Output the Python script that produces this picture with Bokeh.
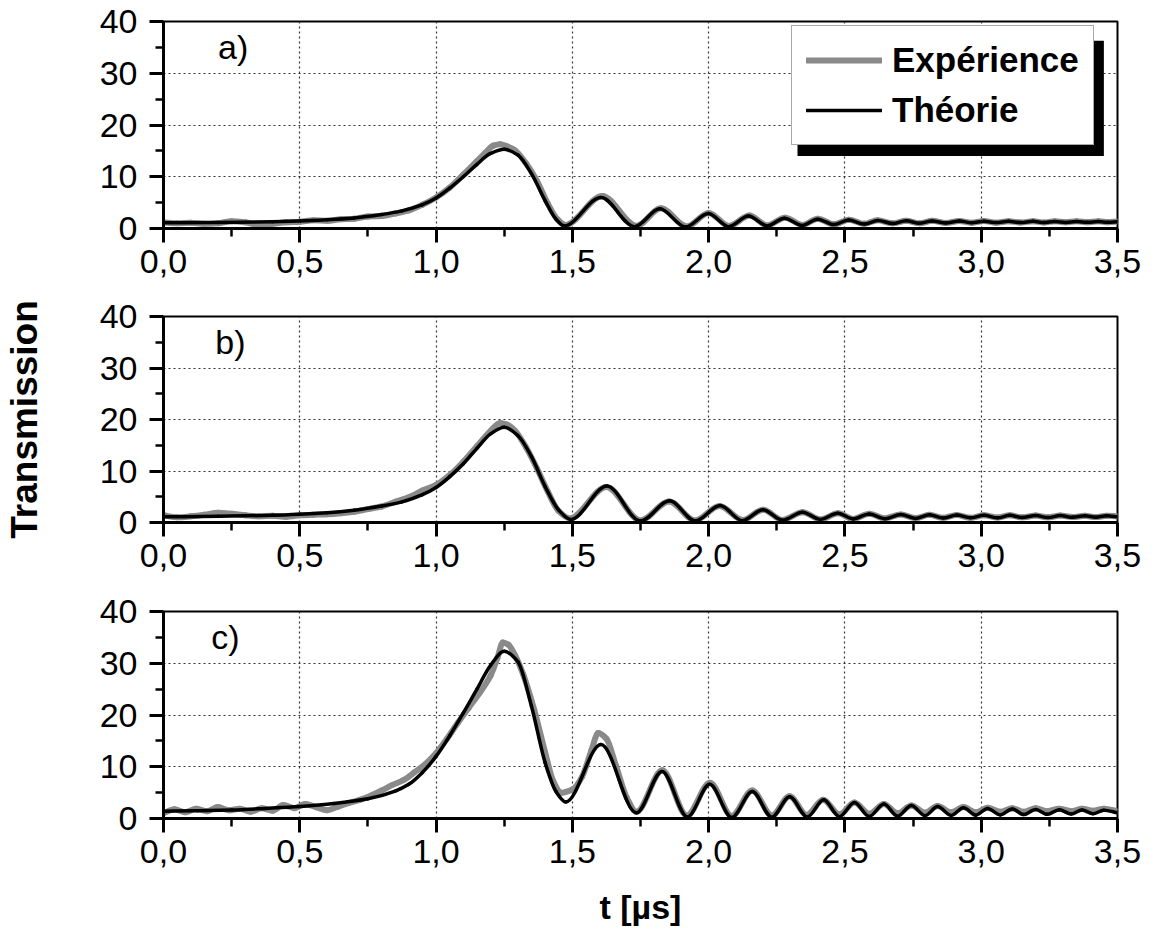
from bokeh.plotting import figure
from bokeh.models import (Range1d, FixedTicker, Legend, LegendItem, BoxAnnotation, Label,
                          ColumnDataSource)
from bokeh.layouts import column
from bokeh.embed import file_html
from bokeh.resources import INLINE

# ---------------- data ----------------
x_ticks = [0.0, 0.5, 1.0, 1.5, 2.0, 2.5, 3.0, 3.5]
x_tick_labels = ["0,0", "0,5", "1,0", "1,5", "2,0", "2,5", "3,0", "3,5"]
x_minor = [0.25, 0.75, 1.25, 1.75, 2.25, 2.75, 3.25]
y_ticks = [0, 10, 20, 30, 40]
y_tick_labels = ["0", "10", "20", "30", "40"]
y_minor = [5, 15, 25, 35]
legend_labels = ["Expérience", "Théorie"]
panel_tags = ["a)", "b)", "c)"]
x_label = "t [µs]"
y_label = "Transmission"

# panel a
a_th_t = [0.00, 0.20, 0.40, 0.50, 0.60, 0.70, 0.80, 0.875, 0.95, 1.00, 1.05, 1.10, 1.15, 1.20, 1.25,
          1.30, 1.35, 1.40, 1.44, 1.47, 1.605, 1.728, 1.821, 1.915, 1.999, 2.073, 2.146, 2.215,
          2.278, 2.343, 2.40, 2.46, 2.514, 2.571, 2.621, 2.676, 2.725, 2.772, 2.82, 2.87, 2.92,
          2.965, 3.01, 3.055, 3.10, 3.145, 3.19, 3.23, 3.27, 3.31, 3.35, 3.39, 3.43, 3.465, 3.50]
a_th_y = [1.1, 1.15, 1.3, 1.45, 1.7, 2.05, 2.7, 3.4, 4.6, 5.9, 7.8, 10.0, 12.4, 14.5, 15.3,
          14.2, 10.6, 5.4, 1.8, 0.5, 6.0, 0.35, 3.8, 0.3, 2.9, 0.35, 2.4, 0.5,
          2.0, 0.6, 1.8, 0.75, 1.65, 0.85, 1.55, 0.95, 1.5, 1.0, 1.45, 1.05, 1.45,
          1.1, 1.4, 1.15, 1.4, 1.15, 1.38, 1.17, 1.36, 1.18, 1.35, 1.2, 1.34, 1.2, 1.3]
a_ex_t = [0.00, 0.05, 0.10, 0.15, 0.20, 0.25, 0.30, 0.35, 0.40, 0.45, 0.50, 0.55, 0.60, 0.65,
          0.70, 0.75, 0.80, 0.85, 0.90, 0.95, 1.00, 1.05, 1.10, 1.15, 1.18, 1.21, 1.235, 1.26,
          1.29, 1.33, 1.37, 1.41, 1.445, 1.475, 1.61, 1.735, 1.825, 1.92, 2.00, 2.075, 2.15,
          2.215, 2.28, 2.345, 2.40, 2.46, 2.515, 2.57, 2.62, 2.675, 2.725, 2.775, 2.82, 2.87,
          2.92, 2.965, 3.01, 3.055, 3.10, 3.145, 3.19, 3.23, 3.27, 3.31, 3.35, 3.39, 3.43,
          3.465, 3.50]
a_ex_y = [1.2, 1.0, 1.1, 0.9, 1.0, 1.4, 1.2, 0.7, 0.9, 1.2, 1.3, 1.6, 1.5, 1.8,
          1.9, 2.3, 2.4, 2.9, 3.5, 4.6, 6.0, 7.9, 10.4, 13.0, 14.6, 16.0, 16.3, 15.9,
          15.1, 12.6, 9.2, 4.8, 1.8, 0.7, 6.3, 0.5, 3.9, 0.4, 3.0, 0.5, 2.5,
          0.6, 2.1, 0.7, 1.9, 0.8, 1.7, 0.9, 1.6, 1.0, 1.5, 1.0, 1.5, 1.05,
          1.45, 1.1, 1.45, 1.1, 1.4, 1.15, 1.4, 1.15, 1.4, 1.2, 1.4, 1.2, 1.4,
          1.2, 1.35]

# panel b
b_th_t = [0.00, 0.20, 0.40, 0.50, 0.60, 0.70, 0.80, 0.875, 0.95, 1.00, 1.05, 1.10, 1.15, 1.20,
          1.25, 1.30, 1.35, 1.40, 1.45, 1.494, 1.627, 1.749, 1.857, 1.951, 2.042, 2.124, 2.199,
          2.271, 2.344, 2.41, 2.474, 2.53, 2.589, 2.647, 2.705, 2.758, 2.81, 2.86, 2.91, 2.96,
          3.01, 3.06, 3.105, 3.15, 3.20, 3.245, 3.29, 3.335, 3.38, 3.42, 3.46, 3.50]
b_th_y = [1.1, 1.2, 1.4, 1.6, 1.9, 2.4, 3.2, 4.0, 5.4, 6.8, 8.9, 11.4, 14.4, 17.2,
          18.5, 16.9, 12.8, 7.0, 2.4, 0.6, 7.1, 0.3, 4.2, 0.3, 3.3, 0.35, 2.5,
          0.45, 2.0, 0.6, 1.8, 0.7, 1.65, 0.75, 1.55, 0.8, 1.5, 0.85, 1.45, 0.9,
          1.4, 0.9, 1.4, 0.95, 1.35, 0.95, 1.35, 1.0, 1.3, 1.0, 1.3, 1.1]
b_ex_t = [0.00, 0.05, 0.10, 0.15, 0.20, 0.25, 0.30, 0.35, 0.40, 0.45, 0.50, 0.55, 0.60, 0.65,
          0.70, 0.75, 0.80, 0.85, 0.90, 0.95, 1.00, 1.05, 1.10, 1.15, 1.20, 1.235, 1.26, 1.29,
          1.33, 1.37, 1.41, 1.45, 1.49, 1.625, 1.75, 1.855, 1.95, 2.04, 2.125, 2.20, 2.27,
          2.345, 2.41, 2.475, 2.53, 2.59, 2.645, 2.705, 2.76, 2.81, 2.86, 2.91, 2.96, 3.01,
          3.06, 3.105, 3.15, 3.20, 3.245, 3.29, 3.335, 3.38, 3.42, 3.46, 3.50]
b_ex_y = [1.4, 1.0, 1.2, 1.5, 1.9, 1.7, 1.4, 1.2, 1.3, 1.1, 1.4, 1.5, 1.6, 1.8,
          2.1, 2.6, 3.1, 4.0, 4.9, 6.2, 7.3, 9.2, 11.8, 14.8, 17.8, 19.3, 19.0, 17.8,
          14.6, 10.5, 6.0, 2.2, 0.8, 6.9, 0.4, 4.1, 0.4, 3.2, 0.5, 2.5, 0.5,
          2.0, 0.6, 1.8, 0.7, 1.7, 0.8, 1.55, 0.85, 1.5, 0.9, 1.45, 0.9, 1.4,
          0.95, 1.4, 1.0, 1.35, 1.0, 1.35, 1.05, 1.3, 1.05, 1.3, 1.2]

# panel c
c_th_t = [0.00, 0.125, 0.25, 0.375, 0.50, 0.625, 0.75, 0.85, 0.90, 0.95, 1.00, 1.05, 1.10, 1.15,
          1.20, 1.25, 1.30, 1.35, 1.40, 1.44, 1.476, 1.605, 1.735, 1.829, 1.922, 2.004, 2.085,
          2.16, 2.232, 2.297, 2.362, 2.422, 2.48, 2.535, 2.589, 2.643, 2.693, 2.744, 2.794,
          2.84, 2.89, 2.935, 2.98, 3.023, 3.07, 3.114, 3.156, 3.20, 3.243, 3.286, 3.33, 3.37,
          3.41, 3.45, 3.50]
c_th_y = [1.4, 1.5, 1.65, 1.95, 2.3, 2.9, 3.8, 5.3, 6.6, 8.9, 12.0, 16.0, 20.4, 25.0,
          29.6, 32.3, 30.3, 21.7, 10.8, 5.2, 3.2, 14.3, 1.1, 9.1, 0.3, 6.6, 0.2,
          5.2, 0.25, 4.2, 0.3, 3.6, 0.35, 3.1, 0.4, 2.8, 0.45, 2.5, 0.55,
          2.3, 0.6, 2.1, 0.65, 1.95, 0.7, 1.85, 0.75, 1.75, 0.8, 1.7, 0.85, 1.65,
          0.9, 1.6, 1.1]
c_ex_t = [0.00, 0.04, 0.08, 0.12, 0.16, 0.20, 0.24, 0.28, 0.32, 0.36, 0.40, 0.44, 0.48, 0.52,
          0.56, 0.60, 0.64, 0.68, 0.72, 0.76, 0.80, 0.84, 0.88, 0.92, 0.96, 1.00, 1.04, 1.08,
          1.12, 1.16, 1.20, 1.225, 1.245, 1.265, 1.29, 1.32, 1.36, 1.40, 1.43, 1.46, 1.50,
          1.535, 1.57, 1.595, 1.625, 1.66, 1.70, 1.735, 1.83, 1.92, 2.005, 2.085, 2.16, 2.232,
          2.297, 2.36, 2.42, 2.48, 2.535, 2.59, 2.643, 2.693, 2.744, 2.794, 2.84, 2.89, 2.935,
          2.98, 3.023, 3.07, 3.114, 3.156, 3.20, 3.243, 3.286, 3.33, 3.37, 3.41, 3.45, 3.50]
c_ex_y = [1.0, 1.8, 1.2, 1.9, 1.4, 2.2, 1.6, 1.9, 1.3, 2.0, 1.5, 2.6, 2.0, 2.8,
          2.2, 1.6, 2.3, 3.0, 3.6, 4.4, 5.4, 6.5, 7.4, 8.9, 10.5, 12.6, 15.4, 18.5,
          21.4, 24.3, 27.6, 31.0, 34.0, 33.6, 31.5, 27.8, 21.0, 12.8, 7.2, 5.0, 5.6,
          8.0, 13.2, 16.5, 15.4, 10.2, 4.0, 1.3, 9.3, 0.6, 6.9, 0.5, 5.4, 0.6,
          4.3, 0.7, 3.6, 0.8, 3.1, 0.9, 2.8, 1.0, 2.5, 1.1, 2.4, 1.2, 2.2,
          1.2, 2.1, 1.3, 2.0, 1.3, 2.0, 1.4, 1.9, 1.4, 1.9, 1.5, 1.9, 1.4]

# ---------------- styling ----------------
FONT = "Liberation Sans"
EXP_COLOR = "#8a8a8a"


def smooth_source(xs, ys):
    """Monotone cubic (Fritsch-Carlson) curve through the read points, as Bezier segments."""
    n = len(xs)
    h = [xs[i + 1] - xs[i] for i in range(n - 1)]
    d = [(ys[i + 1] - ys[i]) / h[i] for i in range(n - 1)]
    m = [0.0] * n
    m[0], m[-1] = d[0], d[-1]
    for i in range(1, n - 1):
        if d[i - 1] * d[i] <= 0:
            m[i] = 0.0
        else:
            w1 = 2 * h[i] + h[i - 1]
            w2 = h[i] + 2 * h[i - 1]
            m[i] = (w1 + w2) / (w1 / d[i - 1] + w2 / d[i])
    return ColumnDataSource(dict(
        x0=xs[:-1], y0=ys[:-1], x1=xs[1:], y1=ys[1:],
        cx0=[xs[i] + h[i] / 3 for i in range(n - 1)],
        cy0=[ys[i] + m[i] * h[i] / 3 for i in range(n - 1)],
        cx1=[xs[i + 1] - h[i] / 3 for i in range(n - 1)],
        cy1=[ys[i + 1] - m[i + 1] * h[i] / 3 for i in range(n - 1)],
    ))


def make_panel(tag, tag_x, th_t, th_y, ex_t, ex_y, top, frame_h, bottom, legend=False,
               xlabel=None, ylabel=None):
    p = figure(width=1147, height=top + frame_h + bottom,
               x_range=Range1d(0, 3.5), y_range=Range1d(0, 40),
               output_backend="svg", toolbar_location=None,
               min_border_left=157, min_border_right=30,
               min_border_top=top, min_border_bottom=bottom)
    p.background_fill_color = "white"
    p.border_fill_color = "white"
    p.outline_line_color = "black"
    p.outline_line_width = 2
    p.outline_line_alpha = 1.0

    xa = p.xaxis[0]
    xa.ticker = FixedTicker(ticks=x_ticks, minor_ticks=x_minor)
    xa.major_label_overrides = dict(zip(x_ticks, x_tick_labels))
    ya = p.yaxis[0]
    ya.ticker = FixedTicker(ticks=y_ticks, minor_ticks=y_minor)
    ya.major_label_overrides = dict(zip(y_ticks, y_tick_labels))
    for ax in (xa, ya):
        ax.axis_line_width = 3
        ax.axis_line_color = "black"
        ax.major_tick_line_width = 3
        ax.minor_tick_line_width = 2.5
        ax.major_tick_line_color = "black"
        ax.minor_tick_line_color = "black"
        ax.major_tick_in = 0
        ax.major_tick_out = 14
        ax.minor_tick_in = 0
        ax.minor_tick_out = 8
        ax.major_label_text_font = FONT
        ax.major_label_text_font_size = "34px"
        ax.major_label_text_color = "black"
        ax.axis_label_text_font = FONT
        ax.axis_label_text_font_style = "bold"
        ax.axis_label_text_color = "black"
    xa.major_label_standoff = 7
    ya.major_label_standoff = 12
    if xlabel:
        xa.axis_label = xlabel
        xa.axis_label_text_font_size = "34px"
        xa.axis_label_standoff = 22
    if ylabel:
        ya.axis_label = ylabel
        ya.axis_label_text_font_size = "37px"
        ya.axis_label_standoff = 52

    for g in (p.xgrid[0], p.ygrid[0]):
        g.grid_line_color = "#333333"
        g.grid_line_width = 1.2
        g.grid_line_dash = "2 3"

    r_exp = p.bezier(x0="x0", y0="y0", x1="x1", y1="y1", cx0="cx0", cy0="cy0",
                     cx1="cx1", cy1="cy1", source=smooth_source(ex_t, ex_y),
                     line_color=EXP_COLOR, line_width=6, line_cap="round")
    r_th = p.bezier(x0="x0", y0="y0", x1="x1", y1="y1", cx0="cx0", cy0="cy0",
                    cx1="cx1", cy1="cy1", source=smooth_source(th_t, th_y),
                    line_color="black", line_width=3.5, line_cap="round")

    p.add_layout(Label(x=tag_x, y=35, text=tag, text_font=FONT, text_font_size="34px",
                       text_color="black", text_baseline="middle", text_align="left"))

    if legend:
        # drop shadow of the legend box (offset ~10 px right and down)
        shadow = BoxAnnotation(left=2.326, right=3.45, top=36.3, bottom=14.0,
                               fill_color="black", fill_alpha=1.0, line_color=None)
        p.add_layout(shadow)
        leg = Legend(items=[LegendItem(label=legend_labels[0], renderers=[r_exp]),
                            LegendItem(label=legend_labels[1], renderers=[r_th])],
                     location=(628, 83))
        leg.margin = 0
        leg.padding = 14
        leg.spacing = 10
        leg.glyph_width = 76
        leg.glyph_height = 36
        leg.label_height = 36
        leg.label_standoff = 10
        leg.label_text_font = FONT
        leg.label_text_font_style = "bold"
        leg.label_text_font_size = "35px"
        leg.label_text_color = "black"
        leg.border_line_color = "#555555"
        leg.border_line_width = 1.5
        leg.background_fill_color = "white"
        leg.background_fill_alpha = 1.0
        p.add_layout(leg, "center")
    return p


pa = make_panel(panel_tags[0], 0.20, a_th_t, a_th_y, a_ex_t, a_ex_y, 21, 207, 64, legend=True)
pb = make_panel(panel_tags[1], 0.19, b_th_t, b_th_y, b_ex_t, b_ex_y, 24, 206, 64, ylabel=y_label)
pc = make_panel(panel_tags[2], 0.175, c_th_t, c_th_y, c_ex_t, c_ex_y, 25, 207, 120, xlabel=x_label)

layout = column(pa, pb, pc, spacing=0)
open("out.html", "w").write(file_html(layout, INLINE))
